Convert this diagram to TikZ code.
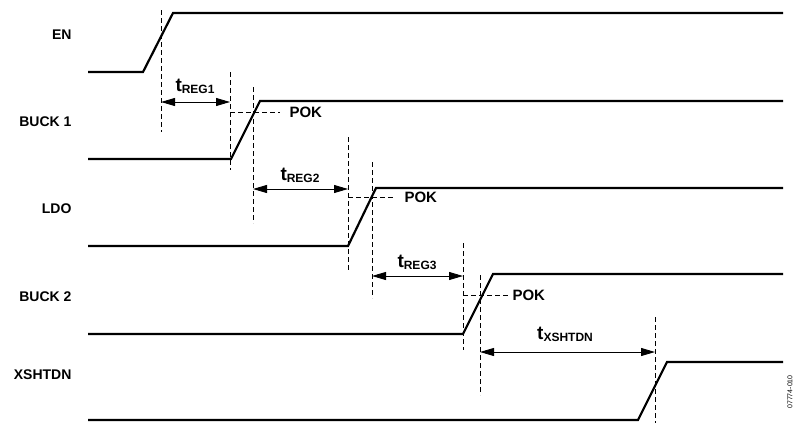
\documentclass[tikz,border=0pt]{standalone}
\usepackage{fontspec}
\setmainfont{Liberation Sans}
\usetikzlibrary{arrows.meta}
\tikzset{
  sig/.style={line width=2.2pt},
  guide/.style={line width=0.8pt, dash pattern=on 5pt off 3pt},
  span/.style={{Triangle[length=14pt,width=8pt]}-{Triangle[length=14pt,width=8pt]}, line width=0.9pt},
  signame/.style={anchor=east, font=\bfseries\fontsize{14}{16}\selectfont},
  pok/.style={anchor=west, font=\bfseries\fontsize{15}{17}\selectfont},
  tlbl/.style={anchor=base, inner sep=0pt, font=\bfseries\fontsize{19}{21}\selectfont},
}
\newcommand{\tsub}[1]{t\raisebox{-2.5pt}{\fontsize{12}{14}\selectfont #1}}
\begin{document}
\begin{tikzpicture}[x=1pt, y=-1pt]
\useasboundingbox (0,0) rectangle (794,423);
% signal names
\node[signame] (en) at (75,35) {EN};
\node[signame] (bk1) at (75,122) {BUCK 1};
\node[signame] (ldo) at (75,209) {LDO};
\node[signame] (bk2) at (75,297) {BUCK 2};
\node[signame] (xsd) at (75,375) {XSHTDN};
% waveforms
\draw[sig] (88,72) -- (143,72) -- (173,13) -- (783,13);
\draw[sig] (88,159) -- (231,159) -- (260,101) -- (783,101);
\draw[sig] (88,246) -- (348,246) -- (376,188) -- (783,188);
\draw[sig] (88,334) -- (463,334) -- (493,274) -- (783,274);
\draw[sig] (88,420) -- (638,420) -- (667,362) -- (783,362);
% marker lines
\draw[guide] (161,10) -- (161,132);
\draw[guide] (230,72) -- (230,170);
\draw[guide] (253,87) -- (253,223);
\draw[guide] (348,137) -- (348,272);
\draw[guide] (372,162) -- (372,298);
\draw[guide] (463,243) -- (463,350);
\draw[guide] (480,275) -- (480,395);
\draw[guide] (655,317) -- (655,423);
% POK levels
\draw[guide] (230,112) -- (280,112);
\node[pok] (pok1) at (286,112) {POK};
\draw[guide] (348,197) -- (395,197);
\node[pok] (pok2) at (401,197) {POK};
\draw[guide] (463,295) -- (510,295);
\node[pok] (pok3) at (509,295) {POK};
% delays
\coordinate (r1a) at (161,102); \coordinate (r1b) at (230,102);
\draw[span] (r1a) -- (r1b);
\node[tlbl] (treg1) at (195,91) {\tsub{REG1}};
\coordinate (r2a) at (253,189); \coordinate (r2b) at (348,189);
\draw[span] (r2a) -- (r2b);
\node[tlbl] (treg2) at (300,180) {\tsub{REG2}};
\coordinate (r3a) at (372,276); \coordinate (r3b) at (463,276);
\draw[span] (r3a) -- (r3b);
\node[tlbl] (treg3) at (417,267) {\tsub{REG3}};
\coordinate (r4a) at (480,352); \coordinate (r4b) at (655,352);
\draw[span] (r4a) -- (r4b);
\node[tlbl] (txsd) at (565,339) {\tsub{XSHTDN}};
% figure tag
\node[rotate=90, font=\fontsize{7}{8}\selectfont] (tag) at (790,392) {07774-010};
\end{tikzpicture}
\end{document}
